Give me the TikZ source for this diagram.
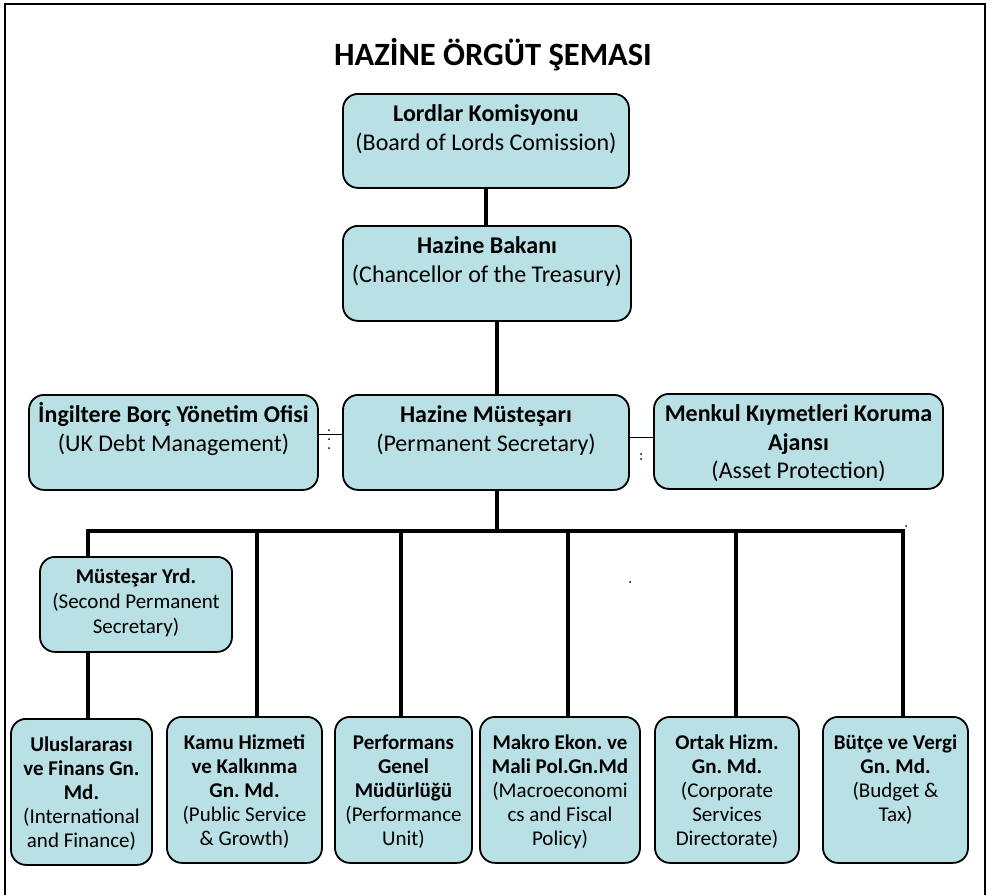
\documentclass[tikz,border=0pt]{standalone}
\usepackage{fontspec}
\setmainfont{Carlito}
\definecolor{boxfill}{RGB}{185,224,228}
\begin{document}
\frenchspacing
\begin{tikzpicture}[x=1pt, y=-1pt,
    orgbox/.style={draw, fill=boxfill, line width=1.8pt, rounded corners=15pt,
      anchor=north, inner sep=0pt,
      execute at begin node={\centering\spaceskip=0pt\xspaceskip=0pt\relax}},
    bigtext/.style={font=\fontsize{24pt}{28.5pt}\selectfont, text height=28pt, text depth=67pt},
    midtext/.style={font=\fontsize{21pt}{25pt}\selectfont, text height=27pt, text depth=68pt},
    smalltext/.style={font=\fontsize{21pt}{24pt}\selectfont, text height=33pt, text depth=113pt},
    link/.style={line width=4.5pt},
    sidelink/.style={line width=1.4pt}]
  \useasboundingbox (0,0) rectangle (990,894);
  % frame, open at the bottom
  \draw[line width=2.5pt] (5,900) -- (5,4) -- (985,4) -- (985,900);

  \node[font=\fontsize{32.5pt}{38pt}\selectfont\bfseries] (title) at (493,55) {HAZİNE ÖRGÜT ŞEMASI};

  % top chain
  \node[orgbox, bigtext, text width=286pt, text depth=66pt] (lords) at (486,93)
    {\textbf{Lordlar Komisyonu}\\(Board of Lords Comission)};
  \node[orgbox, bigtext, text width=288pt] (chancellor) at (487,225)
    {\textbf{Hazine Bakanı}\\(Chancellor of the Treasury)};
  \node[orgbox, bigtext, text width=286pt] (permsec) at (486,394)
    {\textbf{Hazine Müsteşarı}\\(Permanent Secretary)};
  \node[orgbox, bigtext, text width=289pt] (debt) at (173.5,394)
    {\textbf{İngiltere Borç Yönetim Ofisi}\\(UK Debt Management)};
  \node[orgbox, bigtext, text width=289pt] (asset) at (798.5,393)
    {\textbf{Menkul Kıymetleri Koruma}\\\textbf{Ajansı}\\(Asset Protection)};

  % second level
  \node[orgbox, midtext, text width=192pt] (deputy) at (136,556)
    {\textbf{Müsteşar Yrd.}\\(Second Permanent\\Secretary)};

  % directorates
  \node[orgbox, smalltext, text width=141pt] (intl) at (81.5,718)
    {\textbf{Uluslararası}\\\textbf{ve Finans Gn.}\\\textbf{Md.}\\(International\\and Finance)};
  \node[orgbox, smalltext, text width=155pt] (public) at (244.5,716)
    {\textbf{Kamu Hizmeti}\\\textbf{ve Kalkınma}\\\textbf{Gn. Md.}\\(Public Service\\\& Growth)};
  \node[orgbox, smalltext, text width=137pt] (perf) at (403.5,716)
    {\textbf{Performans}\\\textbf{Genel}\\\textbf{Müdürlüğü}\\(Performance\\Unit)};
  \node[orgbox, smalltext, text width=160pt] (macro) at (560,716)
    {\textbf{Makro Ekon. ve}\\\textbf{Mali Pol.Gn.Md}\\(Macroeconomi\\cs and Fiscal\\Policy)};
  \node[orgbox, smalltext, text width=144pt] (corp) at (727,716)
    {\textbf{Ortak Hizm.}\\\textbf{Gn. Md.}\\(Corporate\\Services\\Directorate)};
  \node[orgbox, smalltext, text width=145pt] (budget) at (895.5,716)
    {\textbf{Bütçe ve Vergi}\\\textbf{Gn. Md.}\\(Budget \&\\Tax)};

  \coordinate (hub) at (497,531);
  \coordinate (barL) at (88,531);
  \coordinate (barR) at (903,531);

  % connectors
  \draw[link] (lords.south) -- (lords.south |- chancellor.north);
  \draw[link] (chancellor.south -| hub) -- (permsec.north -| hub);
  \draw[link] (permsec.south -| hub) -- (hub);
  \draw[link, line cap=rect] (barL) -- (barR);
  \draw[link] (barL) -- (barL |- deputy.north);
  \draw[link] (deputy.south -| barL) -- (barL |- intl.north);
  \foreach \n/\x in {public/257, perf/401, macro/568, corp/736, budget/903}
    \draw[link] (\x,531) -- (\x,0 |- \n.north);
  \draw[sidelink] ([yshift=8pt]permsec.west) -- ([yshift=8pt]permsec.west -| debt.east);
  \draw[sidelink] ([yshift=5pt]permsec.east) -- ([yshift=5pt]permsec.east -| asset.west);

  % stray dots
  \foreach \p in {(329,430), (329,439), (329,448), (641,454), (641,459), (906,526), (630,582)}
    \fill \p circle (1pt);
\end{tikzpicture}
\end{document}
